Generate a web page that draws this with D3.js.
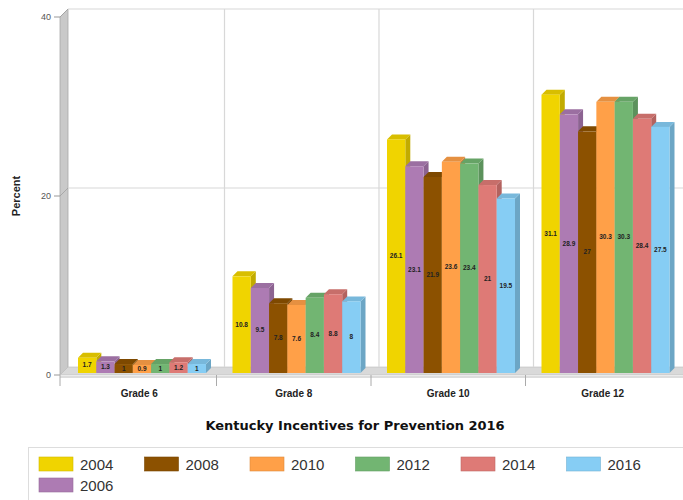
<!DOCTYPE html>
<html>
<head>
<meta charset="utf-8">
<script src="https://cdn.jsdelivr.net/npm/d3@7"></script>
<style>
  body { margin: 0; background: #fff; }
  svg { display: block; font-family: "Liberation Sans", Arial, sans-serif; }
</style>
</head>
<body>
<svg id="chart" width="683" height="500"></svg>
<script>
// Kentucky Incentives for Prevention 2016 — percent by grade and survey year
const grades = ["Grade 6", "Grade 8", "Grade 10", "Grade 12"];
const years = ["2004", "2006", "2008", "2010", "2012", "2014", "2016"];
const v2004 = [1.7, 10.8, 26.1, 31.1];
const v2006 = [1.3, 9.5, 23.1, 28.9];
const v2008 = [1, 7.8, 21.9, 27];
const v2010 = [0.9, 7.6, 23.6, 30.3];
const v2012 = [1, 8.4, 23.4, 30.3];
const v2014 = [1.2, 8.8, 21, 28.4];
const v2016 = [1, 8, 19.5, 27.5];
const yTicks = [0, 20, 40];
const legendOrder = ["2004", "2008", "2010", "2012", "2014", "2016", "2006"];
const colors = ["#f0d400", "#ad7bb3", "#8c5100", "#ffa048", "#72b572", "#de7a76", "#86cdf4"];

const seriesValues = [v2004, v2006, v2008, v2010, v2012, v2014, v2016];
const rows = grades.map((g, i) => ({
  grade: g,
  values: years.map((yr, j) => ({ year: yr, value: seriesValues[j][i] }))
}));

const svg = d3.select("#chart");
const depthX = 8, depthY = 8;     // wall / floor depth
const barDX = 5, barDY = 5;       // bar thickness
const plotLeft = 60, plotRight = 675, plotBottom = 375, plotTop = 17;

const y = d3.scaleLinear().domain([0, 40]).range([plotBottom, plotTop]);
const x0 = d3.scaleBand().domain(grades).range([plotLeft + 2, plotRight + 5]);
const x1 = d3.scaleBand().domain(years).range([16, 16 + 128]);

const color = d3.scaleOrdinal().domain(years).range(colors);

// left wall
svg.append("polygon")
  .attr("points", [[plotLeft, y(40)], [plotLeft + depthX, y(40) - depthY], [plotLeft + depthX, y(0) - depthY], [plotLeft, y(0)]].join(" "))
  .attr("fill", "#c9c9c9").attr("stroke", "#a8a8a8").attr("stroke-width", 0.8);

// floor
svg.append("polygon")
  .attr("points", [[plotLeft, y(0)], [plotLeft + depthX, y(0) - depthY], [plotRight + depthX + 8, y(0) - depthY], [plotRight + 8, y(0)]].join(" "))
  .attr("fill", "#d9d9d9").attr("stroke", "#bdbdbd").attr("stroke-width", 0.6);

// back-wall grid
const grid = svg.append("g");
yTicks.filter(t => t > 0).forEach(t => {
  grid.append("line")
    .attr("x1", plotLeft + depthX).attr("x2", 690)
    .attr("y1", y(t) - depthY).attr("y2", y(t) - depthY)
    .attr("stroke", "#d8d8d8").attr("stroke-width", 1.2);
  grid.append("line")
    .attr("x1", plotLeft).attr("x2", plotLeft + depthX)
    .attr("y1", y(t)).attr("y2", y(t) - depthY)
    .attr("stroke", "#a0a0a0").attr("stroke-width", 0.8);
});
grades.slice(1).forEach(g => {
  grid.append("line")
    .attr("x1", x0(g) + depthX).attr("x2", x0(g) + depthX)
    .attr("y1", y(40) - depthY).attr("y2", y(0) - depthY)
    .attr("stroke", "#d8d8d8").attr("stroke-width", 1.2);
});

// y axis labels and ticks
const yAxis = svg.append("g");
yTicks.forEach(t => {
  yAxis.append("line")
    .attr("x1", plotLeft - 6).attr("x2", plotLeft)
    .attr("y1", y(t)).attr("y2", y(t))
    .attr("stroke", "#999");
  yAxis.append("text")
    .attr("x", plotLeft - 9).attr("y", y(t) + 3)
    .attr("text-anchor", "end")
    .attr("font-size", 9).attr("fill", "#555")
    .text(t);
});
svg.append("text")
  .attr("transform", `translate(20,${y(20)}) rotate(-90)`)
  .attr("text-anchor", "middle")
  .attr("font-size", 11).attr("font-weight", "bold").attr("fill", "#222")
  .text("Percent");

// x axis: baseline, category separators and labels
svg.append("line")
  .attr("x1", plotLeft).attr("x2", 683)
  .attr("y1", y(0) + 2).attr("y2", y(0) + 2)
  .attr("stroke", "#bbb");
[plotLeft, ...grades.slice(1).map(g => x0(g))].forEach(xx => {
  svg.append("line")
    .attr("x1", xx).attr("x2", xx)
    .attr("y1", y(0)).attr("y2", y(0) + 11)
    .attr("stroke", "#aaa");
});
svg.append("g").selectAll("text").data(grades).join("text")
  .attr("x", d => x0(d) + x0.bandwidth() / 2)
  .attr("y", 397)
  .attr("text-anchor", "middle")
  .attr("font-size", 10).attr("font-weight", "bold").attr("fill", "#222")
  .text(d => d);

// 3D bars
const base = y(0) - 2;
const groups = svg.append("g").selectAll("g").data(rows).join("g")
  .attr("transform", d => `translate(${x0(d.grade)},0)`);

const bars = groups.selectAll("g.bar").data(d => d.values).join("g").attr("class", "bar");
const bw = x1.bandwidth();

bars.append("polygon") // side face
  .attr("points", d => {
    const xl = x1(d.year) + bw, yt = y(d.value) - 2;
    return [[xl, yt], [xl + barDX, yt - barDY], [xl + barDX, base - barDY], [xl, base]].join(" ");
  })
  .attr("fill", d => d3.color(color(d.year)).darker(0.6));
bars.append("polygon") // top face
  .attr("points", d => {
    const xl = x1(d.year), yt = y(d.value) - 2;
    return [[xl, yt], [xl + barDX, yt - barDY], [xl + bw + barDX, yt - barDY], [xl + bw, yt]].join(" ");
  })
  .attr("fill", d => d3.color(color(d.year)).darker(0.3));
bars.append("rect") // front face
  .attr("x", d => x1(d.year))
  .attr("y", d => y(d.value) - 2)
  .attr("width", bw)
  .attr("height", d => base - (y(d.value) - 2))
  .attr("fill", d => color(d.year));

bars.append("text")
  .attr("x", d => x1(d.year) + bw / 2)
  .attr("y", d => (y(d.value) - 2 + base) / 2 + 2)
  .attr("text-anchor", "middle")
  .attr("font-size", 6.5).attr("font-weight", "bold").attr("fill", "#222")
  .text(d => d.value);

// title
svg.append("text")
  .attr("x", 355).attr("y", 430)
  .attr("text-anchor", "middle")
  .attr("font-family", "'DejaVu Sans', Verdana, sans-serif")
  .attr("font-size", 13).attr("font-weight", "bold").attr("fill", "#111")
  .text("Kentucky Incentives for Prevention 2016");

// legend
svg.append("rect")
  .attr("x", 28.5).attr("y", 447.5).attr("width", 700).attr("height", 60)
  .attr("fill", "#fff").attr("stroke", "#ddd");
const legend = svg.append("g").selectAll("g").data(legendOrder).join("g")
  .attr("transform", (d, i) => i < 6 ? `translate(${39 + i * 105.5},457)` : `translate(39,478)`);
legend.append("rect")
  .attr("width", 34).attr("height", 14)
  .attr("fill", d => color(d))
  .attr("stroke", d => d3.color(color(d)).darker(0.4)).attr("stroke-width", 0.6);
legend.append("text")
  .attr("x", 41).attr("y", 12.5)
  .attr("font-size", 15).attr("fill", "#333")
  .text(d => d);
</script>
</body>
</html>
